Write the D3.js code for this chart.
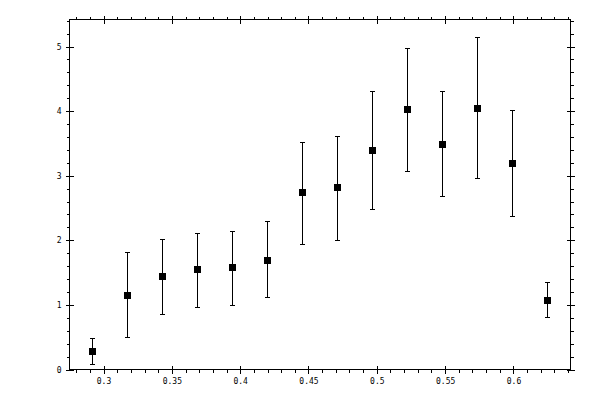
<!DOCTYPE html>
<html>
<head>
<meta charset="utf-8">
<script src="https://cdn.jsdelivr.net/npm/d3@7"></script>
<style>
    body { margin: 0; background: white; }
    text { font-family: "DejaVu Sans Mono", monospace; font-size: 8px; fill: black; }
</style>
</head>
<body>
<div id="chart"></div>
<script>
var xValues = [0.2918, 0.3174, 0.3430, 0.3686, 0.3942, 0.4198, 0.4454, 0.4710, 0.4966, 0.5222, 0.5478, 0.5734, 0.5990, 0.6244];
var yValues = [0.28, 1.16, 1.45, 1.55, 1.58, 1.70, 2.74, 2.82, 3.40, 4.03, 3.49, 4.05, 3.20, 1.08];
var errLow = [0.09, 0.51, 0.86, 0.96, 1.00, 1.12, 1.95, 2.01, 2.48, 3.08, 2.68, 2.97, 2.37, 0.81];
var errHigh = [0.48, 1.82, 2.02, 2.12, 2.15, 2.30, 3.52, 3.61, 4.31, 4.98, 4.31, 5.15, 4.02, 1.36];

var xTicks = [0.3, 0.35, 0.4, 0.45, 0.5, 0.55, 0.6];
var xMinor = [0.28, 0.29, 0.31, 0.32, 0.33, 0.34, 0.36, 0.37, 0.38, 0.39, 0.41, 0.42, 0.43, 0.44,
              0.46, 0.47, 0.48, 0.49, 0.51, 0.52, 0.53, 0.54, 0.56, 0.57, 0.58, 0.59, 0.61, 0.62, 0.63, 0.64];
var yTicks = [0, 1, 2, 3, 4, 5];
var yMinor = [0.2, 0.4, 0.6, 0.8, 1.2, 1.4, 1.6, 1.8, 2.2, 2.4, 2.6, 2.8,
              3.2, 3.4, 3.6, 3.8, 4.2, 4.4, 4.6, 4.8, 5.2, 5.4];

const width = 600;
const height = 400;
const plotLeft = 69.5, plotRight = 570.5, plotTop = 19.5, plotBottom = 369.5;

const svg = d3.select('#chart').append('svg')
    .attr('width', width)
    .attr('height', height)
    .attr('shape-rendering', 'crispEdges');

const xScale = d3.scaleLinear()
    .domain([0.27512, 0.64171])
    .range([plotLeft, plotRight]);

const yScale = d3.scaleLinear()
    .domain([0, 5.418])
    .range([plotBottom, plotTop]);

// frame
svg.append('rect')
    .attr('x', plotLeft)
    .attr('y', plotTop)
    .attr('width', plotRight - plotLeft)
    .attr('height', plotBottom - plotTop)
    .attr('fill', 'none')
    .attr('stroke', 'black');

function tickAxis(axis, ticks, size, tx, ty) {
    const g = svg.append('g')
        .attr('transform', `translate(${tx}, ${ty})`)
        .call(axis.tickValues(ticks).tickSize(size).tickFormat(''));
    g.select('.domain').remove();
    return g;
}

// minor ticks, outside only
tickAxis(d3.axisBottom(xScale), xMinor, 3, 0, plotBottom);
tickAxis(d3.axisTop(xScale), xMinor, 3, 0, plotTop);
tickAxis(d3.axisLeft(yScale), yMinor, 3, plotLeft, 0);
tickAxis(d3.axisRight(yScale), yMinor, 3, plotRight, 0);

// major ticks cross the frame
tickAxis(d3.axisBottom(xScale), xTicks, 8, 0, plotBottom - 4);
tickAxis(d3.axisTop(xScale), xTicks, 8, 0, plotTop + 4);
tickAxis(d3.axisLeft(yScale), yTicks, 8, plotLeft + 4, 0);
tickAxis(d3.axisRight(yScale), yTicks, 8, plotRight - 4, 0);

// labels
const xLabels = svg.append('g')
    .attr('transform', `translate(0, ${plotBottom})`)
    .call(d3.axisBottom(xScale).tickValues(xTicks).tickSize(0).tickPadding(9).tickFormat(d => String(d)));
xLabels.select('.domain').remove();

const yLabels = svg.append('g')
    .attr('transform', `translate(${plotLeft}, 0)`)
    .call(d3.axisLeft(yScale).tickValues(yTicks).tickSize(0).tickPadding(8).tickFormat(d => String(d)));
yLabels.select('.domain').remove();

svg.selectAll('g')
    .attr('font-family', null)
    .attr('font-size', null);

// error bars
const data = d3.zip(xValues, yValues, errLow, errHigh);
const bars = svg.append('g').attr('stroke', 'black');

bars.selectAll('line.err')
    .data(data)
    .enter().append('line')
    .attr('class', 'err')
    .attr('x1', d => Math.round(xScale(d[0])) + 0.5)
    .attr('x2', d => Math.round(xScale(d[0])) + 0.5)
    .attr('y1', d => yScale(d[2]))
    .attr('y2', d => yScale(d[3]));

[2, 3].forEach(function (k) {
    bars.selectAll('line.cap' + k)
        .data(data)
        .enter().append('line')
        .attr('class', 'cap' + k)
        .attr('x1', d => Math.round(xScale(d[0])) - 2)
        .attr('x2', d => Math.round(xScale(d[0])) + 3)
        .attr('y1', d => Math.round(yScale(d[k])) + 0.5)
        .attr('y2', d => Math.round(yScale(d[k])) + 0.5);
});

// markers
svg.append('g').selectAll('rect')
    .data(data)
    .enter().append('rect')
    .attr('x', d => Math.round(xScale(d[0])) - 3)
    .attr('y', d => Math.round(yScale(d[1])) - 3)
    .attr('width', 7)
    .attr('height', 7)
    .attr('fill', 'black');
</script>
</body>
</html>
